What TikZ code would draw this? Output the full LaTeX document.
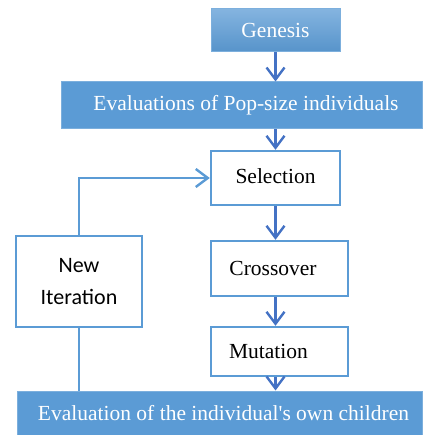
\documentclass[tikz,border=0pt]{standalone}
\usepackage{fontspec}
\setmainfont{Liberation Serif}
\newfontfamily\carlito{Carlito}
\usetikzlibrary{arrows.meta}
\definecolor{boxblue}{HTML}{5B9BD5}
\definecolor{arrowblue}{HTML}{4472C4}
\begin{document}
\begin{tikzpicture}[x=1pt,y=1pt,
        filled/.style={fill=boxblue,draw=boxblue!80!white,line width=1pt,text=white,font=\fontsize{21.5}{24}\selectfont,inner sep=0pt},
        plain/.style={fill=white,draw=boxblue,line width=2.4pt,font=\fontsize{21.5}{24}\selectfont,inner sep=0pt},
        flow/.style={draw=arrowblue,line width=2.4pt,-{Straight Barb[length=12pt,width=18pt,line width=2.4pt]}},
        loop/.style={draw=boxblue,line width=2.4pt}]
        \useasboundingbox (0,0) rectangle (422,-435);
        \node[filled,top color=boxblue!75!white,bottom color=boxblue!95!black,minimum width=129,minimum height=43] (gen) at (275.5,-30.5) {Genesis};
        \node[filled,minimum width=361,minimum height=47] (evpop) at (241.5,-105.5) {\hspace*{9pt}Evaluations of Pop-size individuals};
        \node[plain,minimum width=129,minimum height=54] (sel) at (275.5,-178) {\raisebox{4pt}{Selection}};
        \node[plain,minimum width=137,minimum height=55] (cross) at (279.5,-268.5) {\hspace*{-13pt}Crossover};
        \node[plain,minimum width=137,minimum height=49] (mut) at (279.5,-351.5) {\hspace*{-22pt}Mutation};
        \node[filled,minimum width=405,minimum height=44] (evchild) at (219.5,-413) {\hspace*{8pt}Evaluation of the individual\textquotesingle s own children};
        \node[plain,align=center,minimum width=126,minimum height=91,font=\carlito\fontsize{22}{32}\selectfont] (newit) at (79,-281.5) {New\\Iteration};
        % main flow
        \draw[flow] (gen.south) -- (gen.south |- evpop.north);
        \draw[flow] (gen.south |- evpop.south) -- (sel.north);
        \draw[flow] (sel.south) -- (sel.south |- cross.north);
        \draw[flow] (sel.south |- cross.south) -- (sel.south |- mut.north);
        \draw[flow] (sel.south |- mut.south) -- (sel.south |- evchild.north);
        % loop back
        \draw[loop] (newit.south) -- (newit.south |- evchild.north);
        \draw[loop,-{Straight Barb[length=12pt,width=18pt,line width=2.4pt]}] (newit.north) |- (sel.west);
\end{tikzpicture}
\end{document}
